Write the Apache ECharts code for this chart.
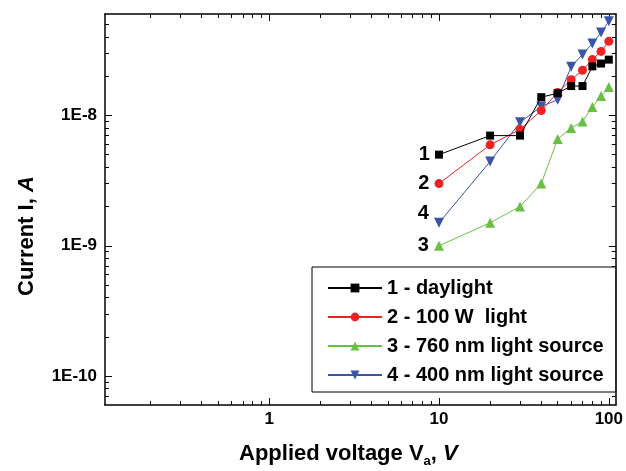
<!DOCTYPE html>
<html>
<head>
<meta charset="utf-8">
<script src="https://cdn.jsdelivr.net/npm/echarts@6/dist/echarts.min.js"></script>
<style>
  html, body { margin: 0; padding: 0; background: #fff; }
  #chart { width: 626px; height: 471px; }
</style>
</head>
<body>
<div id="chart"></div>
<script>
// applied voltage, V
const voltage = [10, 20, 30, 40, 50, 60, 70, 80, 90, 100];
// current, A
const daylight = [5.0e-9, 7.0e-9, 7.0e-9, 1.38e-8, 1.48e-8, 1.68e-8, 1.68e-8, 2.38e-8, 2.5e-8, 2.68e-8];
const light100W = [3.0e-9, 5.95e-9, 7.8e-9, 1.09e-8, 1.5e-8, 1.88e-8, 2.22e-8, 2.68e-8, 3.1e-8, 3.7e-8];
const source760 = [1.0e-9, 1.5e-9, 2.0e-9, 3.0e-9, 6.6e-9, 8.0e-9, 9.0e-9, 1.16e-8, 1.41e-8, 1.65e-8];
const source400 = [1.5e-9, 4.43e-9, 8.85e-9, 1.17e-8, 1.32e-8, 2.36e-8, 2.94e-8, 3.56e-8, 4.33e-8, 5.28e-8];

const seriesNames = ['1 - daylight', '2 - 100 W  light', '3 - 760 nm light source', '4 - 400 nm light source'];
const curveTags = ['1', '2', '3', '4'];
const colors = ['#000000', '#ee2222', '#6cbf45', '#3a54a8'];

const xMin = 0.108, xMax = 110;
const yMin = 6e-11, yMax = 6e-8;

const font = 'Liberation Sans, Arial, sans-serif';

// tick positions on a log axis: mults x each decade inside (lo, hi)
function logTicks(lo, hi, mults) {
  const out = [];
  for (let d = Math.floor(Math.log10(lo)); d <= Math.ceil(Math.log10(hi)); d++) {
    mults.forEach(m => {
      const v = m * Math.pow(10, d);
      if (v > lo && v < hi) out.push(v);
    });
  }
  return out;
}
const minorMults = [2, 3, 4, 5, 6, 7, 8, 9];
const xMajor = logTicks(xMin, xMax, [1]);
const xMinor = logTicks(xMin, xMax, minorMults);
const yMajor = logTicks(yMin, yMax, [1]);
const yMinor = logTicks(yMin, yMax, minorMults);

function decadeLabel(v, fmt) {
  const l = Math.log10(v);
  const e = Math.round(l);
  if (Math.abs(l - e) > 1e-6) return '';
  return fmt(e);
}

const chart = echarts.init(document.getElementById('chart'));

function makeSeries(i, values, symbol, size, rotate, tagOffset) {
  return {
    name: seriesNames[i],
    type: 'line',
    symbol: symbol,
    symbolSize: size,
    symbolRotate: rotate,
    color: colors[i],
    lineStyle: { width: 1, color: colors[i] },
    itemStyle: { color: colors[i] },
    z: 5 - i,
    data: voltage.map((v, k) => {
      const item = { value: [v, values[k]] };
      if (k === 0) {
        item.label = {
          show: true,
          position: 'left',
          distance: 5,
          offset: tagOffset,
          formatter: curveTags[i],
          color: '#000',
          fontFamily: font,
          fontWeight: 'bold',
          fontSize: 20
        };
      }
      return item;
    })
  };
}

// one axis per side and tick size; only the first bottom/left ones carry labels
function frameAxis(pos, min, max, ticks, len, showLine, labelFmt, margin) {
  return {
    type: 'log', min: min, max: max, position: pos,
    axisLine: { show: showLine, lineStyle: { color: '#000', width: 1.5 } },
    axisTick: { show: true, inside: true, length: len, customValues: ticks, lineStyle: { color: '#000', width: 1 } },
    splitLine: { show: false },
    axisLabel: labelFmt ? {
      show: true, margin: margin, color: '#000', fontFamily: font, fontWeight: 'bold', fontSize: 17,
      formatter: labelFmt
    } : { show: false }
  };
}

const xLabel = v => decadeLabel(v, e => String(Math.pow(10, e)));
const yLabel = v => decadeLabel(v, e => '1E' + e);

chart.setOption({
  animation: false,
  backgroundColor: '#fff',
  grid: { left: 105, right: 7, top: 14, bottom: 66 },
  legend: {
    data: seriesNames,
    left: 312,
    top: 267,
    orient: 'vertical',
    padding: [11, 12, 7, 15],
    itemWidth: 54,
    itemHeight: 11,
    itemGap: 9,
    backgroundColor: '#fff',
    borderColor: '#000',
    borderWidth: 1,
    textStyle: { fontFamily: font, fontWeight: 'bold', fontSize: 20, lineHeight: 20, color: '#000' }
  },
  xAxis: [
    frameAxis('bottom', xMin, xMax, xMajor, 7, true, xLabel, 6),
    frameAxis('top', xMin, xMax, xMajor, 7, true, null),
    frameAxis('bottom', xMin, xMax, xMinor, 4, false, null),
    frameAxis('top', xMin, xMax, xMinor, 4, false, null)
  ],
  yAxis: [
    frameAxis('left', yMin, yMax, yMajor, 7, true, yLabel, 8),
    frameAxis('right', yMin, yMax, yMajor, 7, true, null),
    frameAxis('left', yMin, yMax, yMinor, 4, false, null),
    frameAxis('right', yMin, yMax, yMinor, 4, false, null)
  ],
  graphic: [
    {
      type: 'text', left: 239, top: 443,
      style: {
        text: '{b|Applied voltage V}{s|a}{b|, }{i|V}',
        rich: {
          b: { fontFamily: font, fontWeight: 'bold', fontSize: 22, fill: '#000' },
          s: { fontFamily: font, fontWeight: 'bold', fontSize: 13, fill: '#000', padding: [14, 0, 0, 0] },
          i: { fontFamily: font, fontWeight: 'bold', fontStyle: 'italic', fontSize: 22, fill: '#000' }
        }
      }
    },
    {
      type: 'text', x: 16, y: 296, rotation: Math.PI / 2,
      style: {
        text: '{b|Current I, }{i|A}',
        rich: {
          b: { fontFamily: font, fontWeight: 'bold', fontSize: 22, fill: '#000' },
          i: { fontFamily: font, fontWeight: 'bold', fontStyle: 'italic', fontSize: 22, fill: '#000' }
        }
      }
    }
  ],
  series: [
    makeSeries(0, daylight, 'rect', 8, 0, [0, 0]),
    makeSeries(1, light100W, 'circle', 9, 0, [0, 0]),
    makeSeries(2, source760, 'triangle', 10, 0, [0, 0]),
    makeSeries(3, source400, 'triangle', 10, 180, [0, -9])
  ]
});
</script>
</body>
</html>
